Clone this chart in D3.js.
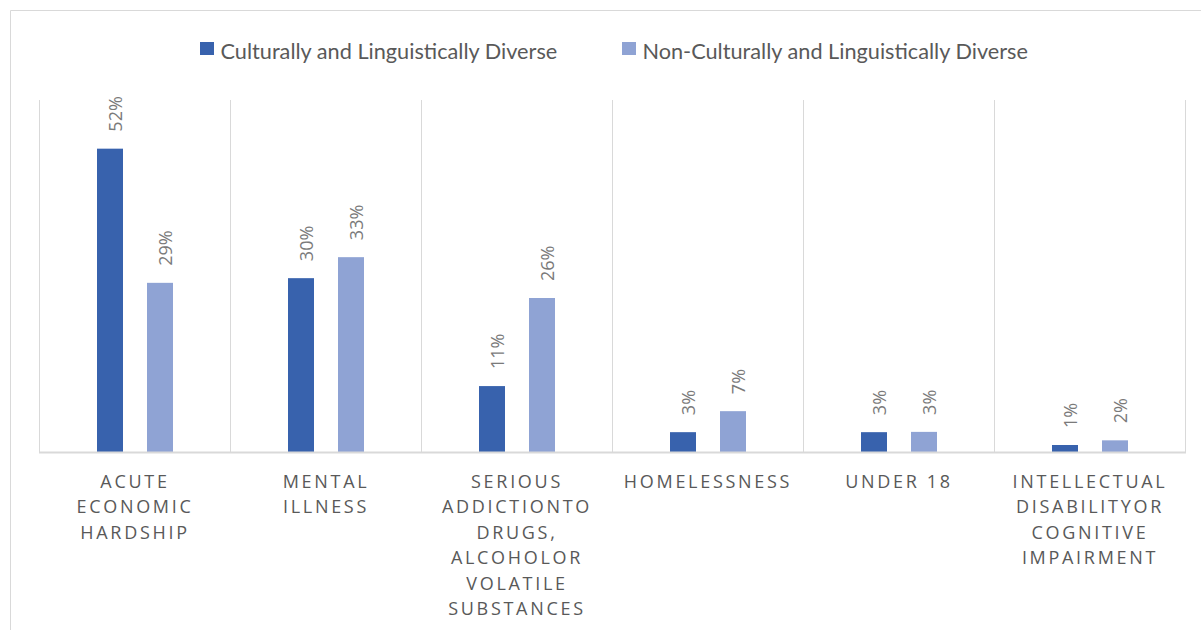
<!DOCTYPE html>
<html><head><meta charset="utf-8">
<script src="https://cdn.jsdelivr.net/npm/d3@7"></script>
<style>body{margin:0;background:#fff;}svg{display:block;}</style>
</head><body>
<svg id="chart" width="1201" height="630"></svg>
<script>
const categories = ["Acute economic hardship","Mental illness","Serious addiction to drugs, alcohol or volatile substances","Homelessness","Under 18","Intellectual disability or cognitive impairment"];
const categoryLines = [
  ["ACUTE","ECONOMIC","HARDSHIP"],
  ["MENTAL","ILLNESS"],
  ["SERIOUS","ADDICTIONTO","DRUGS,","ALCOHOLOR","VOLATILE","SUBSTANCES"],
  ["HOMELESSNESS"],
  ["UNDER 18"],
  ["INTELLECTUAL","DISABILITYOR","COGNITIVE","IMPAIRMENT"]
];
const seriesNames = ["Culturally and Linguistically Diverse","Non-Culturally and Linguistically Diverse"];
const caldValues = [52, 29.8, 11.3, 3.4, 3.4, 1.2];
const nonCaldValues = [29, 33.4, 26.4, 7, 3.45, 2];
const colors = ["#3862ad", "#8fa3d4"];

(function(){
const svg = d3.select("#chart");
const W = 1201, H = 630;
const pLeft = 39, pRight = 1185, base = 452, pTop = 102;

// frame
svg.append("path").attr("d", `M10.5,${H} V10.5 H${W}`).attr("fill","none").attr("stroke","#d9d9d9").attr("stroke-width",1);

const x0 = d3.scaleBand().domain(categories).range([pLeft, pRight]).padding(0);
const x1 = d3.scaleBand().domain(seriesNames).range([58, 134]).paddingInner(0.48).paddingOuter(0);
const y = d3.scaleLinear().domain([0, 60]).range([base, pTop]);

// separators
const seps = categories.map(c => x0(c)).concat([pRight]);
svg.append("g").selectAll("line").data(seps).join("line")
  .attr("x1", d => Math.round(d)+0.5).attr("x2", d => Math.round(d)+0.5)
  .attr("y1", 100).attr("y2", base)
  .attr("stroke", "#d9d9d9").attr("stroke-width", 1);

// bars
const data = categories.map((c, i) => ({c, vals: [caldValues[i], nonCaldValues[i]]}));
const g = svg.append("g");
const groups = g.selectAll("g").data(data).join("g").attr("transform", d => `translate(${x0(d.c)},0)`);
groups.selectAll("rect").data(d => d.vals.map((v, j) => ({v, s: seriesNames[j], j})))
  .join("rect")
  .attr("x", d => x1(d.s)).attr("width", x1.bandwidth())
  .attr("y", d => y(d.v)).attr("height", d => base - y(d.v))
  .attr("fill", d => colors[d.j]);
groups.selectAll("text").data(d => d.vals.map((v, j) => ({v, s: seriesNames[j], j})))
  .join("text")
  .attr("transform", d => `translate(${x1(d.s) + x1.bandwidth()/2 + 11.5},${y(d.v) - 17}) rotate(-90)`)
  .attr("text-anchor", "start")
  .attr("font-family", "Open Sans, sans-serif").attr("font-size", 18)
  .attr("fill", "#7a7a7a")
  .text(d => Math.round(d.v) + "%");

// baseline
svg.append("line").attr("x1", pLeft).attr("x2", pRight+1).attr("y1", base+0.5).attr("y2", base+0.5)
  .attr("stroke", "#d9d9d9").attr("stroke-width", 2);

// category labels
const lab = svg.append("g");
categories.forEach((c, i) => {
  const cx = x0(c) + x0.bandwidth()/2 + 0.5;
  lab.append("text")
    .attr("font-family", "Open Sans, sans-serif").attr("font-size", 18)
    .attr("letter-spacing", "2.7px").attr("fill", "#595959").attr("text-anchor", "middle")
    .selectAll("tspan").data(categoryLines[i]).join("tspan")
    .attr("x", cx).attr("y", (d, k) => 488 + k*25.4)
    .text(d => d);
});

// legend
const legendX = [200, 622];
const lg = svg.append("g");
seriesNames.forEach((s, i) => {
  lg.append("rect").attr("x", legendX[i]).attr("y", 42).attr("width", 14).attr("height", 13).attr("fill", colors[i]);
  lg.append("text").attr("x", legendX[i] + 20.5).attr("y", 59)
    .attr("font-family", "Lato, sans-serif").attr("font-size", 21.7).attr("fill", "#595959")
    .text(s);
});
})();
</script>
</body></html>
